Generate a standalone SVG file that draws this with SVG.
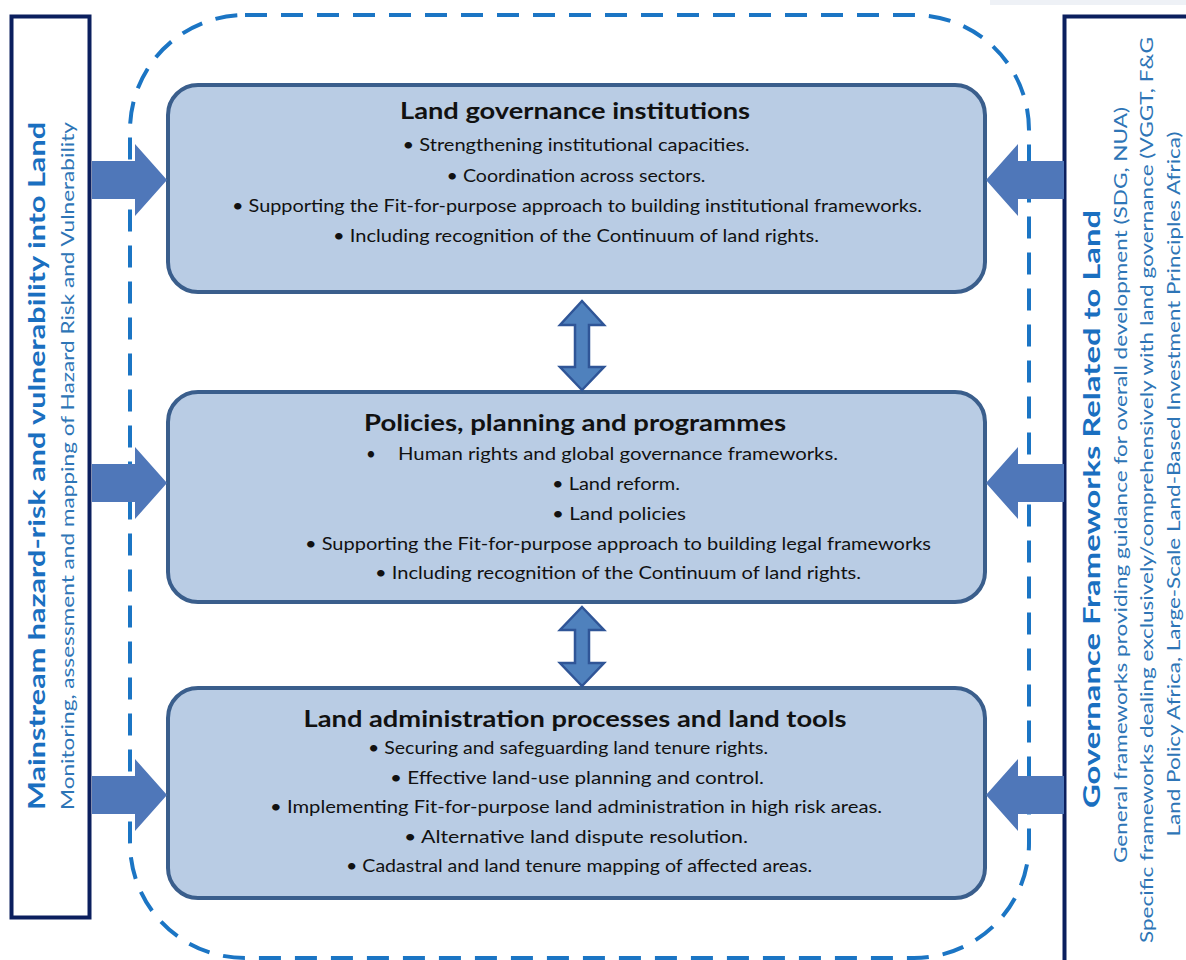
<svg xmlns="http://www.w3.org/2000/svg" width="1186" height="960" viewBox="0 0 1186 960">
<defs>
<style>
.side{fill:#ffffff;stroke:#0b1f5e;stroke-width:4}
.box{fill:#b9cce4;stroke:#3a5e8c;stroke-width:4}
.dash{fill:none;stroke:#1b75c4;stroke-width:4;stroke-dasharray:22 14}
.arr{fill:#4f77b9}
.darr{fill:#4f81bd;stroke:#2f5597;stroke-width:2.5;stroke-linejoin:miter}
.t{font-family:Lato,"Open Sans","Liberation Sans",sans-serif;fill:#111111;text-anchor:middle}
.ttl{font-size:22px;font-weight:bold}
.ln{font-size:17px}
.st{text-anchor:start}
.vb{font-family:Lato,"Open Sans","Liberation Sans",sans-serif;font-size:22px;font-weight:bold;fill:#1a6fc0;text-anchor:middle}
.vs{font-family:Lato,"Open Sans","Liberation Sans",sans-serif;font-size:17px;fill:#2e75b6;text-anchor:middle}
</style>
</defs>
<rect x="990" y="0" width="196" height="5" fill="#eef1f6"/>
<rect class="dash" x="130" y="15" width="899" height="943" rx="115" ry="115"/>
<g id="left-panel">
<rect class="side" x="11.5" y="16.5" width="78" height="901"/>
<text class="vb" transform="translate(45,466) rotate(-90)" textLength="688" lengthAdjust="spacingAndGlyphs">Mainstream hazard-risk and vulnerability into Land</text>
<text class="vs" transform="translate(74,466) rotate(-90)" textLength="688" lengthAdjust="spacingAndGlyphs">Monitoring, assessment and mapping of Hazard Risk and Vulnerability</text>
</g>
<g id="right-panel">
<rect class="side" x="1064.5" y="16.5" width="140" height="960"/>
<text class="vb" transform="translate(1100,509) rotate(-90)" textLength="598" lengthAdjust="spacingAndGlyphs">Governance Frameworks Related to Land</text>
<text class="vs" transform="translate(1127,485) rotate(-90)" textLength="756" lengthAdjust="spacingAndGlyphs">General frameworks providing guidance for overall development (SDG, NUA)</text>
<text class="vs" transform="translate(1153,490) rotate(-90)" textLength="906" lengthAdjust="spacingAndGlyphs">Specific frameworks dealing exclusively/comprehensively with land governance (VGGT, F&amp;G</text>
<text class="vs" transform="translate(1180,484) rotate(-90)" textLength="705" lengthAdjust="spacingAndGlyphs">Land Policy Africa, Large-Scale Land-Based Investment Principles Africa)</text>
</g>
<g id="box-institutions">
<rect class="box" x="168" y="85" width="817" height="207" rx="30" ry="30"/>
<text class="t ttl" x="575" y="119" textLength="350" lengthAdjust="spacingAndGlyphs">Land governance institutions</text>
<text class="t ln" x="576" y="151" textLength="347" lengthAdjust="spacingAndGlyphs">• Strengthening institutional capacities.</text>
<text class="t ln" x="576" y="182" textLength="259" lengthAdjust="spacingAndGlyphs">• Coordination across sectors.</text>
<text class="t ln" x="577" y="212" textLength="690" lengthAdjust="spacingAndGlyphs">• Supporting the Fit-for-purpose approach to building institutional frameworks.</text>
<text class="t ln" x="576" y="242" textLength="486" lengthAdjust="spacingAndGlyphs">• Including recognition of the Continuum of land rights.</text>
</g>
<g id="box-policies">
<rect class="box" x="168" y="392" width="817" height="210" rx="30" ry="30"/>
<text class="t ttl" x="575" y="431" textLength="422" lengthAdjust="spacingAndGlyphs">Policies, planning and programmes</text>
<text class="t ln st" x="366" y="460">•</text>
<text class="t ln st" x="398" y="460" textLength="440" lengthAdjust="spacingAndGlyphs">Human rights and global governance frameworks.</text>
<text class="t ln st" x="552" y="490" textLength="128" lengthAdjust="spacingAndGlyphs">• Land reform.</text>
<text class="t ln st" x="552" y="520" textLength="134" lengthAdjust="spacingAndGlyphs">• Land policies</text>
<text class="t ln" x="618" y="550" textLength="626" lengthAdjust="spacingAndGlyphs">• Supporting the Fit-for-purpose approach to building legal frameworks</text>
<text class="t ln" x="618" y="579" textLength="486" lengthAdjust="spacingAndGlyphs">• Including recognition of the Continuum of land rights.</text>
</g>
<g id="box-administration">
<rect class="box" x="168" y="688" width="817" height="210" rx="30" ry="30"/>
<text class="t ttl" x="575" y="727" textLength="543" lengthAdjust="spacingAndGlyphs">Land administration processes and land tools</text>
<text class="t ln" x="568" y="754" textLength="400" lengthAdjust="spacingAndGlyphs">• Securing and safeguarding land tenure rights.</text>
<text class="t ln" x="577" y="784" textLength="374" lengthAdjust="spacingAndGlyphs">• Effective land-use planning and control.</text>
<text class="t ln" x="576" y="813" textLength="612" lengthAdjust="spacingAndGlyphs">• Implementing Fit-for-purpose land administration in high risk areas.</text>
<text class="t ln" x="576" y="843" textLength="344" lengthAdjust="spacingAndGlyphs">• Alternative land dispute resolution.</text>
<text class="t ln" x="579" y="872" textLength="466" lengthAdjust="spacingAndGlyphs">• Cadastral and land tenure mapping of affected areas.</text>
</g>
<g id="connectors">
<path class="arr" d="M92,161 H135 V144 L167,180 L135,216 V199 H92 Z"/>
<path class="arr" d="M92,464 H135 V447 L167,483 L135,519 V502 H92 Z"/>
<path class="arr" d="M92,776 H135 V759 L167,795 L135,831 V814 H92 Z"/>
<path class="arr" d="M1064,161 H1018 V144 L986,180 L1018,216 V199 H1064 Z"/>
<path class="arr" d="M1064,464 H1018 V447 L986,483 L1018,519 V502 H1064 Z"/>
<path class="arr" d="M1064,776 H1018 V759 L986,795 L1018,831 V814 H1064 Z"/>
<path class="darr" d="M582,301 L604,325 H589 V367 H604 L582,390 L560,367 H575 V325 H560 Z"/>
<path class="darr" d="M582,607 L604,630 H589 V663 H604 L582,686 L560,663 H575 V630 H560 Z"/>
</g>
</svg>
